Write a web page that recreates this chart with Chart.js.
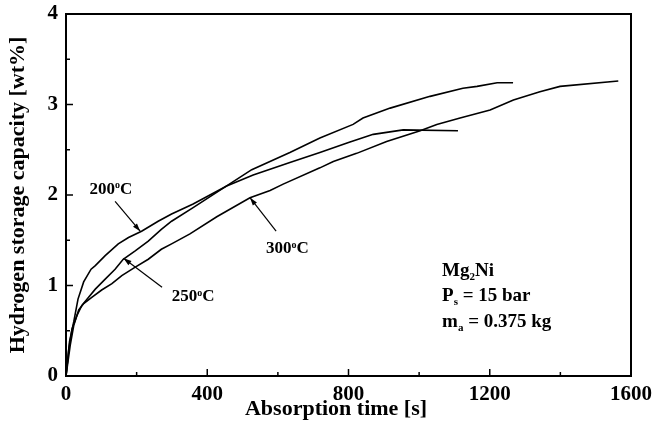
<!DOCTYPE html>
<html>
<head>
<meta charset="utf-8">
<script src="https://cdn.jsdelivr.net/npm/chart.js@4.4.0/dist/chart.umd.min.js"></script>
<style>
html,body{margin:0;padding:0;background:#fff}
</style>
</head>
<body>
<canvas id="c" width="652" height="441"></canvas>
<script>
// absorption curves, time [s] vs capacity [wt%]
const t200=[0,10,22,34,50,71,83,111,148,177,214,261,299,360,455,530,634,719,800,870,955,1110];
const h200=[0,0.38,0.60,0.85,1.04,1.18,1.22,1.33,1.46,1.53,1.60,1.71,1.79,1.90,2.10,2.22,2.36,2.47,2.58,2.67,2.72,2.71];

const t250=[0,8,17,31,45,64,83,111,139,162,195,233,270,299,360,455,526,634,719,813,841,918,1031,1124,1164,1221,1266];
const h250=[0,0.30,0.52,0.67,0.78,0.87,0.96,1.07,1.18,1.29,1.38,1.49,1.62,1.71,1.86,2.10,2.28,2.47,2.63,2.78,2.85,2.96,3.09,3.18,3.20,3.24,3.24];

const t300=[0,12,22,36,50,73,101,130,158,195,233,270,299,351,427,521,578,615,719,757,823,908,1003,1050,1116,1201,1267,1342,1399,1564];
const h300=[0,0.34,0.56,0.73,0.80,0.87,0.95,1.02,1.11,1.20,1.29,1.40,1.46,1.57,1.76,1.97,2.05,2.12,2.30,2.37,2.46,2.59,2.71,2.78,2.85,2.94,3.05,3.14,3.20,3.26];

const xTitle='Absorption time [s]';
const yTitle='Hydrogen storage capacity [wt%]';

const serif='"Liberation Serif","Times New Roman",serif';

function pts(t,h){return t.map((x,i)=>({x:x,y:h[i]}));}

// labels with arrows (data coords)
const tempLabels=[
  {parts:[['200',0],['o',1],['C',0]],x:127,y:2.08,from:[139,1.93],to:[210,1.60]},
  {parts:[['250',0],['o',1],['C',0]],x:360,y:0.89,from:[272,0.98],to:[163,1.30]},
  {parts:[['300',0],['o',1],['C',0]],x:627,y:1.42,from:[595,1.60],to:[521,1.97]}
];
const infoLines=[
  [['Mg',0],['2',-1],['Ni',0]],
  [['P',0],['s',-1],[' = 15 bar',0]],
  [['m',0],['a',-1],[' = 0.375 kg',0]]
];

function drawRich(ctx,parts,x,y,size,align){
  let w=0;
  parts.forEach(p=>{
    ctx.font='bold '+(p[1]?Math.round(size*0.6):size)+'px '+serif;
    w+=ctx.measureText(p[0]).width;
  });
  let cx=align==='center'?x-w/2:x;
  ctx.textBaseline='alphabetic';
  ctx.textAlign='left';
  parts.forEach(p=>{
    const s=p[1]?Math.round(size*0.6):size;
    ctx.font='bold '+s+'px '+serif;
    let dy=0;
    if(p[1]===1) dy=-size*0.32;
    if(p[1]===-1) dy=size*0.22;
    ctx.fillText(p[0],cx,y+dy);
    cx+=ctx.measureText(p[0]).width;
  });
}

function arrow(ctx,x1,y1,x2,y2){
  ctx.beginPath();ctx.moveTo(x1,y1);ctx.lineTo(x2,y2);ctx.stroke();
  const a=Math.atan2(y2-y1,x2-x1),L=8,W=2.6;
  ctx.beginPath();
  ctx.moveTo(x2,y2);
  ctx.lineTo(x2-L*Math.cos(a)+W*Math.sin(a),y2-L*Math.sin(a)-W*Math.cos(a));
  ctx.lineTo(x2-L*Math.cos(a)-W*Math.sin(a),y2-L*Math.sin(a)+W*Math.cos(a));
  ctx.closePath();ctx.fill();
}

const decor={
  id:'decor',
  afterDraw(chart){
    const ctx=chart.ctx,a=chart.chartArea,xs=chart.scales.x,ys=chart.scales.y;
    ctx.save();
    ctx.strokeStyle='#000';ctx.fillStyle='#000';
    // frame
    ctx.lineWidth=2;
    ctx.strokeRect(a.left,a.top,a.right-a.left,a.bottom-a.top);
    // inward ticks
    ctx.lineWidth=1.5;
    xs.ticks.forEach(t=>{
      const px=xs.getPixelForValue(t.value),len=t.value%400===0?7:4;
      ctx.beginPath();ctx.moveTo(px,a.bottom);ctx.lineTo(px,a.bottom-len);ctx.stroke();
    });
    ys.ticks.forEach(t=>{
      const py=ys.getPixelForValue(t.value),len=Number.isInteger(t.value)?7:4;
      ctx.beginPath();ctx.moveTo(a.left,py);ctx.lineTo(a.left+len,py);ctx.stroke();
    });
    // axis titles
    ctx.font='bold 22px '+serif;
    ctx.textAlign='center';ctx.textBaseline='middle';
    ctx.fillText(xTitle,336,409);
    ctx.save();
    ctx.translate(18,(a.top+a.bottom)/2);
    ctx.rotate(-Math.PI/2);
    ctx.fillText(yTitle,0,0);
    ctx.restore();
    // temperature labels + arrows
    ctx.lineWidth=1.2;
    tempLabels.forEach(l=>{
      drawRich(ctx,l.parts,xs.getPixelForValue(l.x),ys.getPixelForValue(l.y)+6,17,'center');
      arrow(ctx,xs.getPixelForValue(l.from[0]),ys.getPixelForValue(l.from[1]),
                xs.getPixelForValue(l.to[0]),ys.getPixelForValue(l.to[1]));
    });
    // info block
    const bx=xs.getPixelForValue(1065);
    infoLines.forEach((ln,i)=>{
      drawRich(ctx,ln,bx,ys.getPixelForValue(1.11)+i*25.5,19,'left');
    });
    ctx.restore();
  }
};

const tickFont={family:serif,size:21,weight:'bold'};

function noOverflow(s){s.paddingTop=0;s.paddingRight=0;s.paddingLeft=0;s.paddingBottom=0;}

new Chart(document.getElementById('c'),{
  type:'line',
  data:{datasets:[
    {label:'200C',data:pts(t200,h200)},
    {label:'250C',data:pts(t250,h250)},
    {label:'300C',data:pts(t300,h300)}
  ]},
  options:{
    responsive:false,
    animation:false,
    layout:{padding:{top:14,right:21,left:0,bottom:0}},
    elements:{
      point:{radius:0},
      line:{tension:0,borderWidth:1.6,borderColor:'#000',fill:false}
    },
    plugins:{legend:{display:false},tooltip:{enabled:false}},
    scales:{
      x:{
        type:'linear',min:0,max:1600,
        ticks:{stepSize:200,autoSkip:false,maxRotation:0,color:'#000',font:tickFont,padding:6,
          callback:v=>v%400===0?v:''},
        grid:{display:false,drawTicks:false},
        border:{display:false},
        afterFit:s=>{s.height=65;noOverflow(s);}
      },
      y:{
        min:0,max:4,
        ticks:{stepSize:0.5,color:'#000',font:tickFont,padding:8,
          callback:v=>Number.isInteger(v)?v:''},
        grid:{display:false,drawTicks:false},
        border:{display:false},
        afterFit:s=>{s.width=66;noOverflow(s);}
      }
    }
  },
  plugins:[decor]
});
</script>
</body>
</html>
